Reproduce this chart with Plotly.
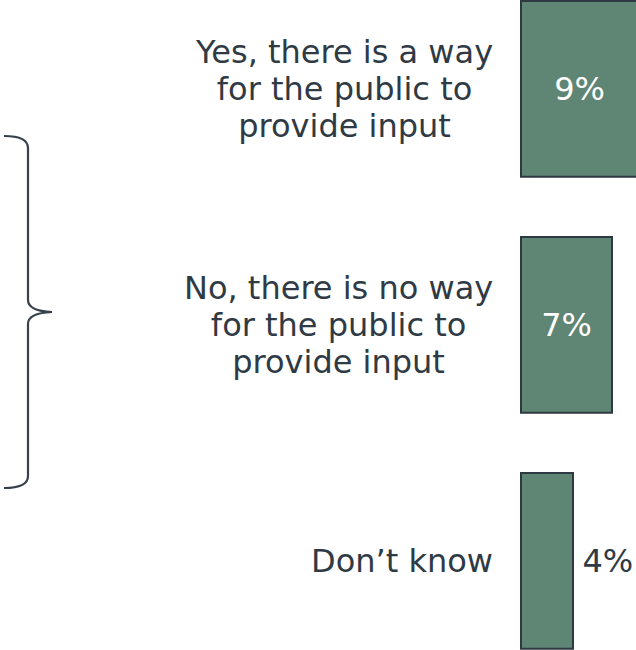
import plotly.graph_objects as go

categories = ["Yes, there is a way<br>for the public to<br>provide input",
              "No, there is no way<br>for the public to<br>provide input",
              "Don\u2019t know"]
values = [9, 7, 4]
value_labels = ["9%", "7%", "4%"]

W, H = 636, 650
TEXT = "#2f3a45"
FONT = "DejaVu Sans"
FS = 32

fig = go.Figure()
fig.add_trace(go.Bar(
    x=values, y=[0, 1, 2], orientation="h",
    marker=dict(color="#5f8575", line=dict(color="#2e3843", width=2)),
    text=[value_labels[0], value_labels[1], "\u2009" + value_labels[2]],
    textposition=["inside", "inside", "outside"],
    insidetextanchor="middle",
    insidetextfont=dict(color="white", size=FS, family=FONT),
    outsidetextfont=dict(color=TEXT, size=FS, family=FONT),
    cliponaxis=True,
    width=0.745,
    hoverinfo="skip",
))

for i, c in enumerate(categories):
    lines = c.split("<br>")
    txt = "<br>".join(f'<span style="font-size:{FS}px">{ln}</span>' for ln in lines)
    fig.add_annotation(x=0, y=i, xref="x", yref="y", text=txt, showarrow=False,
                       xanchor="right", yanchor="middle", align="center", xshift=-26,
                       font=dict(size=28.5, family=FONT, color=TEXT))

def px(x, y):
    return f"{x/W:.5f},{1 - y/H:.5f}"

brace = (f"M {px(4,136)} Q {px(28,136)} {px(28,148)} L {px(28,300)} "
         f"Q {px(28,311)} {px(52,312)} Q {px(28,313)} {px(28,324)} "
         f"L {px(28,476)} Q {px(28,488)} {px(4,488)}")
fig.add_shape(type="path", xref="paper", yref="paper", path=brace,
              line=dict(color="#37414c", width=2.2))

ppu = 13.0
c0 = 88.8
fig.update_layout(
    width=W, height=H, margin=dict(l=0, r=0, t=0, b=0),
    plot_bgcolor="white", paper_bgcolor="white", showlegend=False,
    xaxis=dict(range=[-521 / ppu, 115 / ppu], visible=False, fixedrange=True),
    yaxis=dict(range=[(650 - c0) / 236, -c0 / 236], visible=False, fixedrange=True),
)
fig.write_html("out.html", config={"displayModeBar": False, "staticPlot": True},
               post_script="document.body.style.margin='0';document.body.style.overflow='hidden';")
